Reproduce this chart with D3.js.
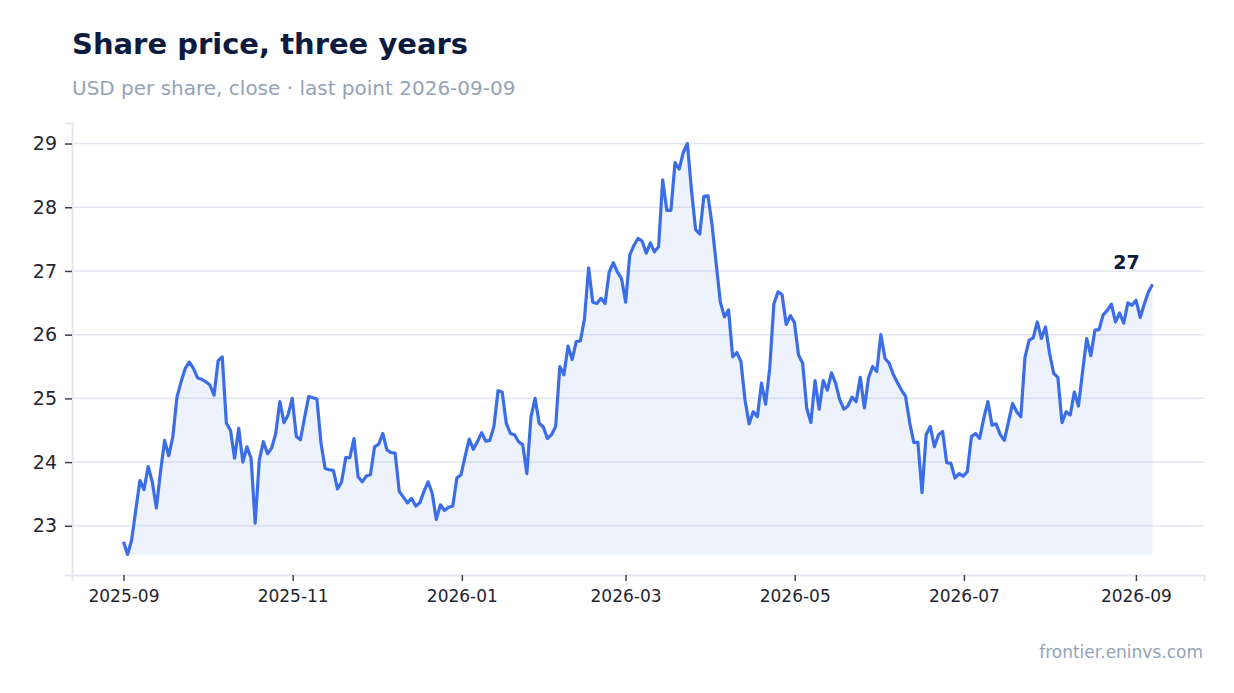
<!DOCTYPE html>
<html lang="en">
<head>
<meta charset="UTF-8">
<title>Share price, three years</title>
<script src="https://cdn.jsdelivr.net/npm/d3@7"></script>
<style>
  body { margin: 0; background: #fff; }
  text { font-family: "DejaVu Sans", sans-serif; }
</style>
</head>
<body>
<svg></svg>
<script>
  var width = 1234;
  var height = 693;

  // closing prices, first and last observation dates
  var startDate = "2025-09-01";
  var endDate = "2026-09-07";
  var prices = [
    22.75, 22.55, 22.78, 23.25, 23.71, 23.57, 23.93, 23.69, 23.28, 23.85,
    24.34, 24.10, 24.40, 25.02, 25.26, 25.47, 25.57, 25.47, 25.32, 25.30,
    25.26, 25.21, 25.05, 25.59, 25.65, 24.61, 24.50, 24.06, 24.53, 24.00,
    24.24, 24.06, 23.04, 24.03, 24.32, 24.13, 24.22, 24.45, 24.95, 24.62,
    24.74, 25.00, 24.40, 24.35, 24.70, 25.03, 25.01, 24.99, 24.29, 23.90,
    23.88, 23.87, 23.58, 23.69, 24.07, 24.07, 24.37, 23.77, 23.69, 23.78,
    23.80, 24.24, 24.28, 24.45, 24.19, 24.15, 24.14, 23.54, 23.45, 23.36,
    23.43, 23.31, 23.36, 23.54, 23.69, 23.51, 23.10, 23.33, 23.24, 23.29,
    23.31, 23.75, 23.80, 24.09, 24.36, 24.20, 24.32, 24.46, 24.33, 24.34,
    24.56, 25.12, 25.10, 24.61, 24.45, 24.43, 24.32, 24.27, 23.82, 24.71,
    25.00, 24.61, 24.55, 24.37, 24.43, 24.56, 25.50, 25.37, 25.82, 25.61,
    25.89, 25.90, 26.25, 27.05, 26.51, 26.49, 26.57, 26.49, 26.98, 27.13,
    26.98, 26.88, 26.51, 27.25, 27.40, 27.51, 27.47, 27.28, 27.44, 27.30,
    27.38, 28.43, 27.95, 27.95, 28.70, 28.60, 28.86, 29.00, 28.26, 27.65,
    27.58, 28.17, 28.18, 27.72, 27.11, 26.51, 26.28, 26.39, 25.65, 25.72,
    25.58, 24.97, 24.60, 24.79, 24.71, 25.24, 24.91, 25.47, 26.48, 26.67,
    26.63, 26.16, 26.30, 26.19, 25.68, 25.55, 24.84, 24.62, 25.28, 24.83,
    25.28, 25.13, 25.40, 25.24, 24.98, 24.83, 24.88, 25.02, 24.95, 25.33,
    24.85, 25.32, 25.50, 25.42, 26.00, 25.63, 25.55, 25.38, 25.25, 25.13,
    25.03, 24.62, 24.31, 24.31, 23.52, 24.43, 24.56, 24.24, 24.43, 24.48,
    23.99, 23.98, 23.75, 23.82, 23.78, 23.85, 24.40, 24.45, 24.37, 24.69,
    24.95, 24.58, 24.60, 24.43, 24.34, 24.63, 24.92, 24.79, 24.71, 25.64,
    25.91, 25.95, 26.20, 25.94, 26.12, 25.70, 25.39, 25.33, 24.62, 24.79,
    24.74, 25.10, 24.88, 25.42, 25.94, 25.67, 26.07, 26.08, 26.31, 26.38,
    26.48, 26.20, 26.34, 26.18, 26.50, 26.46, 26.54, 26.27, 26.48, 26.67,
    26.79
  ];
  var yTicks = [23, 24, 25, 26, 27, 28, 29];

  var margin = {top: 123, right: 30, bottom: 118, left: 72};
  var innerW = width - margin.left - margin.right;
  var innerH = height - margin.top - margin.bottom;

  var svg = d3.select('svg')
      .attr('width', width)
      .attr('height', height);

  var t0 = new Date(startDate + "T00:00:00Z").getTime();
  var t1 = new Date(endDate + "T00:00:00Z").getTime();
  var step = (t1 - t0) / (prices.length - 1);
  var data = prices.map(function(v, i) {
    return {date: new Date(t0 + i * step), value: v};
  });

  // 5% padding on both axes
  var xPad = (t1 - t0) * 0.05;
  var x = d3.scaleUtc()
      .domain([new Date(t0 - xPad), new Date(t1 + xPad)])
      .range([margin.left, margin.left + innerW]);

  var yMin = d3.min(prices), yMax = d3.max(prices);
  var yPad = (yMax - yMin) * 0.05;
  var y = d3.scaleLinear()
      .domain([yMin - yPad, yMax + yPad])
      .range([margin.top + innerH, margin.top]);

  // title block
  svg.append('text')
      .attr('x', 72).attr('y', 54)
      .style('font-size', '29px').style('font-weight', 'bold')
      .style('fill', '#0d1b3e')
      .text('Share price, three years');
  svg.append('text')
      .attr('x', 72).attr('y', 95)
      .style('font-size', '20px')
      .style('fill', '#94a3b8')
      .text('USD per share, close \u00b7 last point 2026-09-09');

  // grid
  svg.append('g')
      .selectAll('line')
      .data(yTicks)
      .enter()
      .append('line')
      .attr('x1', margin.left).attr('x2', margin.left + innerW)
      .attr('y1', function(d) { return y(d); })
      .attr('y2', function(d) { return y(d); })
      .attr('stroke', '#e3e7f1').attr('stroke-width', 1.5);

  // area down to the lowest close, then the line
  var area = d3.area()
      .x(function(d) { return x(d.date); })
      .y0(y(yMin))
      .y1(function(d) { return y(d.value); });
  var line = d3.line()
      .x(function(d) { return x(d.date); })
      .y(function(d) { return y(d.value); });

  svg.append('path')
      .datum(data)
      .attr('d', area)
      .attr('fill', '#3b6ee6').attr('fill-opacity', 0.09);
  svg.append('path')
      .datum(data)
      .attr('d', line)
      .attr('fill', 'none')
      .attr('stroke', '#3b6ee6')
      .attr('stroke-width', 3.2)
      .attr('stroke-linejoin', 'round');

  // axes
  var xAxis = svg.append('g')
      .attr('transform', 'translate(0,' + (margin.top + innerH) + ')')
      .call(d3.axisBottom(x)
          .ticks(d3.utcMonth.every(2))
          .tickFormat(d3.utcFormat('%Y-%m'))
          .tickSizeOuter(0)
          .tickSize(6)
          .tickPadding(9));
  var yAxis = svg.append('g')
      .attr('transform', 'translate(' + margin.left + ',0)')
      .call(d3.axisLeft(y)
          .tickValues(yTicks)
          .tickSizeOuter(0)
          .tickSize(7)
          .tickPadding(8));

  [xAxis, yAxis].forEach(function(g) {
    g.select('.domain').attr('stroke', '#e3e7f1').attr('stroke-width', 2);
    g.selectAll('.tick line').attr('stroke', '#3a3f4b').attr('stroke-width', 1.5);
    g.selectAll('.tick text').style('fill', '#1f2430');
  });
  xAxis.selectAll('.tick text').style('font-size', '17px');
  yAxis.selectAll('.tick text').style('font-size', '19px');

  // last value label
  var last = data[data.length - 1];
  svg.append('text')
      .attr('x', x(last.date) - 26)
      .attr('y', y(last.value) - 15)
      .attr('text-anchor', 'middle')
      .style('font-size', '19px').style('font-weight', 'bold')
      .style('fill', '#0d1b3e')
      .text(d3.format('.0f')(last.value));

  // source
  svg.append('text')
      .attr('x', 1203).attr('y', 658)
      .attr('text-anchor', 'end')
      .style('font-size', '17px')
      .style('fill', '#94a3b8')
      .text('frontier.eninvs.com');
</script>
</body>
</html>
